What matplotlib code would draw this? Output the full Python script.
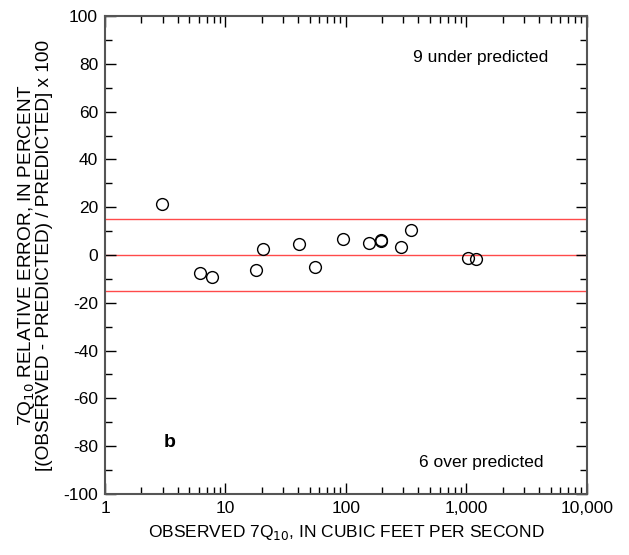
import matplotlib
matplotlib.use("Agg")
import matplotlib.pyplot as plt
from matplotlib.ticker import FixedLocator, FuncFormatter, MultipleLocator
import numpy as np

plt.rcParams['font.family'] = ['Liberation Sans', 'DejaVu Sans']
plt.rcParams['axes.unicode_minus'] = False

observed = [2.95, 6.1, 7.8, 18.0, 20.5, 40.5, 55.6, 93.8, 156, 194, 197, 284, 348, 1035, 1200]
rel_error = [21.2, -7.4, -9.4, -6.4, 2.6, 4.7, -5.0, 6.7, 5.0, 6.3, 5.7, 3.2, 10.3, -1.3, -1.8]
ref_lines = [15, 0, -15]
x_ticks = [1, 10, 100, 1000, 10000]
y_ticks = [-100, -80, -60, -40, -20, 0, 20, 40, 60, 80, 100]

fig = plt.figure(figsize=(6.29, 5.55), dpi=100)
ax = fig.add_axes([0.167, 0.11, 0.766, 0.861])

for v in ref_lines:
    ax.axhline(v, color='#ff4a4a', lw=1.0, zorder=1)

ax.plot(observed, rel_error, linestyle='none', marker='o', markersize=8.5,
        markerfacecolor='none', markeredgecolor='black', markeredgewidth=1.0, zorder=3)

ax.set_xscale('log')
ax.set_xlim(1, 10000)
ax.set_ylim(-100, 100)
ax.xaxis.set_major_locator(FixedLocator(x_ticks))
ax.xaxis.set_major_formatter(FuncFormatter(lambda v, p: f"{int(round(v)):,}"))
ax.yaxis.set_major_locator(FixedLocator(y_ticks))
ax.yaxis.set_minor_locator(MultipleLocator(10))

ax.tick_params(which='both', direction='in', top=True, right=True, colors='black',
               labelsize=12.5, width=1.0)
ax.tick_params(which='major', length=8, pad=5)
ax.tick_params(which='minor', length=5)
for s in ax.spines.values():
    s.set_color('#555555')
    s.set_linewidth(1.5)

ax.set_xlabel('OBSERVED 7Q$_{10}$, IN CUBIC FEET PER SECOND', fontsize=12.5, labelpad=5)
ax.set_ylabel('7Q$_{10}$ RELATIVE ERROR, IN PERCENT\n[(OBSERVED - PREDICTED) / PREDICTED] x 100',
              fontsize=13.7, linespacing=0.95)
ax.yaxis.set_label_coords(-0.108, 0.5)

ax.text(1320, 82.5, '9 under predicted', ha='center', va='center', fontsize=12.5)
ax.text(1320, -87, '6 over predicted', ha='center', va='center', fontsize=12.5)
ax.text(3.45, -78.5, 'b', ha='center', va='center', fontsize=14, fontweight='bold')

fig.savefig('out.png', dpi=100)
